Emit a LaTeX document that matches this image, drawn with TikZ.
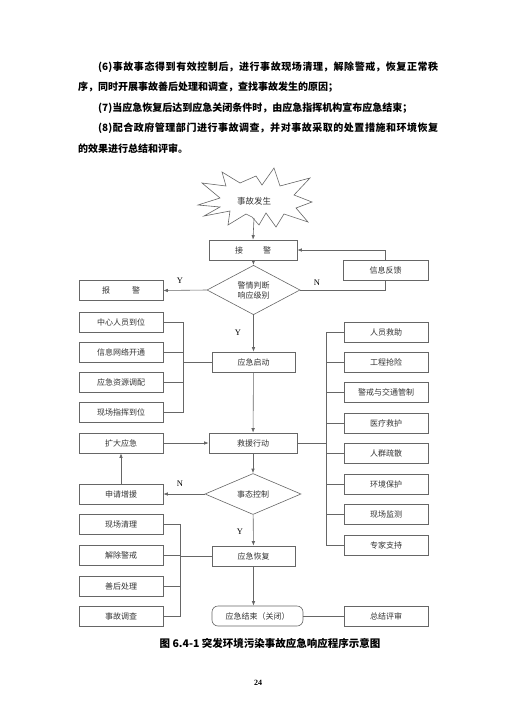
\documentclass[tikz,border=0pt]{standalone}
\usepackage{fontspec}
\setmainfont{Liberation Serif}
\newfontfamily\cjk{Noto Sans CJK SC}
\usetikzlibrary{arrows.meta}
\usetikzlibrary{shapes.geometric}
\XeTeXlinebreaklocale "zh"
\XeTeXlinebreakskip=0pt plus 2pt

\tikzset{
  line/.style={draw=black!60, line width=0.6pt},
  box/.style={line, minimum width=84pt, minimum height=20pt, inner sep=0pt,
    font=\cjk\fontsize{8}{10}\selectfont, text=black!80},
  judge/.style={line, diamond, inner sep=0pt, align=center,
    font=\cjk\fontsize{8}{10}\selectfont, text=black!80},
  yn/.style={font=\fontsize{8.5}{10}\selectfont, inner sep=0pt}
}

\begin{document}
\begin{tikzpicture}[x=1pt, y=-1pt, >={Latex[length=4.5pt,width=3.5pt]}]
    \useasboundingbox (0,0) rectangle (516,718);
    % text above the chart
    \node[anchor=base west, text width=360pt, align=justify, inner sep=0pt,
      font=\cjk\bfseries\fontsize{10}{20.6}\selectfont] (para) at (78,70)
      {\hspace*{2em}(6)事故事态得到有效控制后，进行事故现场清理，解除警戒，恢复正常秩\linebreak
       序，同时开展事故善后处理和调查，查找事故发生的原因；\par
       \hspace*{2em}(7)当应急恢复后达到应急关闭条件时，由应急指挥机构宣布应急结束；\par
       \hspace*{2em}(8)配合政府管理部门进行事故调查，并对事故采取的处置措施和环境恢复\linebreak
       的效果进行总结和评审。};

    % the starburst
    \draw[line] (198,205) -- (220,198) -- (202,183) -- (226,186) -- (222,172)
      -- (240,183) -- (256,176) -- (262,185) -- (274,168) -- (280,186)
      -- (310,178) -- (294,195) -- (312,202) -- (296,208) -- (308,222)
      -- (284,214) -- (276,227) -- (266,213) -- (259,225) -- (252,217)
      -- (246,214) -- (228,225) -- (230,211) -- (204,216) -- (220,207) -- cycle;
    \node[font=\cjk\fontsize{8.5}{10}\selectfont, text=black!80] (incident) at (254,201) {事故发生};
    \coordinate (burstfoot) at (254,218);

    % main column
    \node[box, minimum width=88pt] (receive) at (253,250) {接\hspace{2.5em}警};
    \node[judge, minimum width=93pt, minimum height=41pt] (judge) at (253.5,290) {警情判断\\响应级别};
    \node[box, minimum width=83pt] (start) at (253.5,362) {应急启动};
    \node[box, minimum width=88pt] (rescue) at (253,443) {救援行动};
    \node[judge, minimum width=96pt, minimum height=41pt] (control) at (253,494) {事态控制};
    \node[box, minimum width=83pt] (recover) at (253.5,556) {应急恢复};
    \node[box, minimum width=91pt, rounded corners=6pt] (close) at (257.5,616) {应急结束（关闭）};

    % left column
    \node[box] (report) at (121,290.5) {报\hspace{2.75em}警};
    \node[box] (staff) at (121,322) {中心人员到位};
    \node[box] (network) at (121,352) {信息网络开通};
    \node[box] (resource) at (121,382) {应急资源调配};
    \node[box] (command) at (121,412) {现场指挥到位};
    \node[box] (expand) at (121,443) {扩大应急};
    \node[box] (request) at (121,494) {申请增援};
    \node[box] (clean) at (121,524) {现场清理};
    \node[box] (lift) at (121,555) {解除警戒};
    \node[box] (after) at (121,586) {善后处理};
    \node[box] (probe) at (121,616) {事故调查};

    % right column
    \node[box, minimum width=85pt] (feedback) at (385.5,270) {信息反馈};
    \node[box] (save) at (386,332) {人员救助};
    \node[box] (repair) at (386,362) {工程抢险};
    \node[box] (traffic) at (386,392) {警戒与交通管制};
    \node[box] (medical) at (386,423) {医疗救护};
    \node[box] (evacuate) at (386,453) {人群疏散};
    \node[box] (protect) at (386,484) {环境保护};
    \node[box] (monitor) at (386,514) {现场监测};
    \node[box] (expert) at (386,545) {专家支持};
    \node[box] (review) at (386,616) {总结评审};

    \coordinate (busa) at (183,0);
    \coordinate (busb) at (180,0);
    \coordinate (busc) at (326,0);

    % arrows down the main column
    \draw[line, ->] (burstfoot) -- (receive.north);
    \draw[line, ->] (receive) -- (judge.north);
    \draw[line, ->] (judge) -- (start);
    \draw[line, ->] (start) -- (rescue);
    \draw[line, ->] (rescue) -- (control.north);
    \draw[line, ->] (control) -- (recover);
    \draw[line, ->] (recover.south) -- (recover.south |- close.north);

    % yes / no branches
    \draw[line, ->] (judge.west) -- (report.east);
    \draw[line] (judge.east) -| (feedback.south);
    \draw[line, ->] (feedback.north) |- (receive.east);
    \draw[line, ->] (control.west) -- (request.east);
    \draw[line, ->] (request) -- (expand);
    \draw[line, ->] (expand) -- (rescue);
    \draw[line] (close) -- (review);

    \node[yn] at (180,281) {Y};
    \node[yn] at (317,283) {N};
    \node[yn] at (238,333) {Y};
    \node[yn] at (180,484) {N};
    \node[yn] at (240,532) {Y};

    % left buses
    \draw[line] (staff.east) -- (staff.east -| busa) -- (command.east -| busa) -- (command.east);
    \draw[line] (network.east) -- (network.east -| busa);
    \draw[line] (resource.east) -- (resource.east -| busa);
    \draw[line] (start.west) -- (start.west -| busa);
    \draw[line] (clean.east) -- (clean.east -| busb) -- (probe.east -| busb) -- (probe.east);
    \draw[line] (lift.east) -- (lift.east -| busb);
    \draw[line] (after.east) -- (after.east -| busb);
    \draw[line] (recover.west) -- (recover.west -| busb);

    % right bus
    \draw[line] (save.west) -- (save.west -| busc) -- (expert.west -| busc) -- (expert.west);
    \draw[line] (repair.west) -- (repair.west -| busc);
    \draw[line] (traffic.west) -- (traffic.west -| busc);
    \draw[line] (medical.west) -- (medical.west -| busc);
    \draw[line] (evacuate.west) -- (evacuate.west -| busc);
    \draw[line] (protect.west) -- (protect.west -| busc);
    \draw[line] (monitor.west) -- (monitor.west -| busc);
    \draw[line] (rescue.east) -- (rescue.east -| busc);

    \node[font=\cjk\bfseries\fontsize{10.5}{12}\selectfont] (caption) at (270,643) {图 6.4-1\ 突发环境污染事故应急响应程序示意图};
    \node[font=\bfseries\fontsize{8}{10}\selectfont] (pageno) at (258,683) {24};
\end{tikzpicture}
\end{document}
